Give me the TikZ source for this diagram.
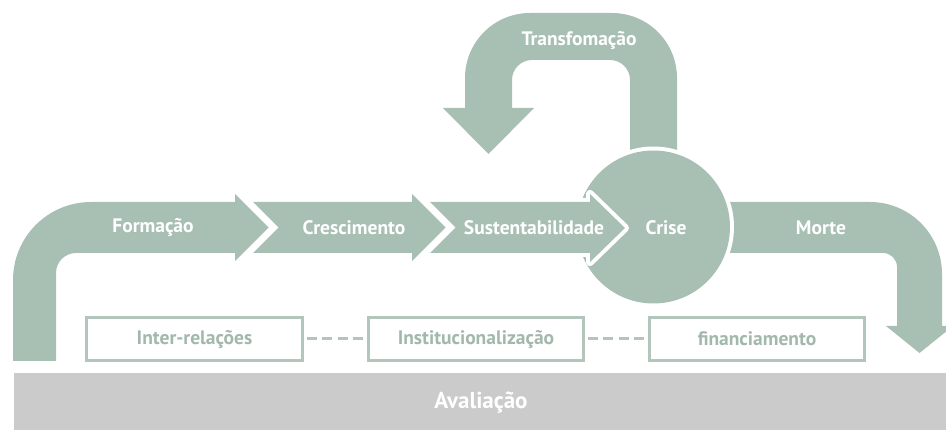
\documentclass[tikz,border=0pt]{standalone}
\usepackage{fontspec}
\setmainfont{PT Sans}
\definecolor{sage}{HTML}{A8BFB3}
\definecolor{sageline}{HTML}{B2C6BB}
\definecolor{sagetext}{HTML}{A3B8AC}
\definecolor{bargray}{HTML}{CBCBCB}
\tikzset{
  shapefill/.style={fill=sage, draw=none},
  cutter/.style={draw=white, line width=8pt, line join=round, fill=sage},
  lbl/.style={text=white, font=\fontsize{19.5}{22}\selectfont\bfseries, inner sep=0pt},
  phasebox/.style={draw=sageline, line width=2.6pt, fill=white, text=sagetext,
    font=\fontsize{19.5}{22}\selectfont\bfseries, minimum height=43pt, inner sep=0pt},
  dashline/.style={draw=sageline, line width=3pt, dash pattern=on 10pt off 5.5pt, dash phase=-3pt},
}
\begin{document}
\begin{tikzpicture}[x=1pt,y=-1pt]
\useasboundingbox (0,0) rectangle (946,430);
\clip (0,0) rectangle (946,430);
% Transformacao loop
\path[shapefill] (630,175) -- (630,80) arc[start angle=0, end angle=-90, radius=20]
  -- (532,60) arc[start angle=270, end angle=180, radius=20]
  -- (512,108) -- (534,108) -- (488.5,154) -- (443,108) -- (465,108)
  -- (465,78) arc[start angle=180, end angle=270, radius=65]
  -- (612,13) arc[start angle=270, end angle=360, radius=65]
  -- (677,175) -- cycle;
% Morte
\path[shapefill] (700,202) -- (870,202) arc[start angle=270, end angle=360, radius=72]
  -- (942,326) -- (953,326) -- (919.5,353) -- (886,326) -- (897,326)
  -- (897,267) arc[start angle=0, end angle=-90, radius=14]
  -- (700,253) -- cycle;
% Crise circle
\path[cutter] (653.5,227) circle[radius=76.5];
\path[shapefill] (653.5,227) circle[radius=76.5];
% Formacao (L shape)
\path[shapefill] (13,361) -- (13,280) arc[start angle=180, end angle=270, radius=78]
  -- (235,202) -- (235,194) -- (268.5,227.5) -- (235,261) -- (235,253)
  -- (76,253) arc[start angle=270, end angle=180, radius=20] -- (56,361) -- cycle;
% Crescimento
\path[shapefill] (253,202) -- (412,202) -- (412,194) -- (445.5,227.5) -- (412,261)
  -- (412,253) -- (253,253) -- (278.5,227.5) -- cycle;
% Sustentabilidade (cuts the circle)
\path[cutter] (560,202) -- (590,202) -- (590,194) -- (625,228) -- (590,262)
  -- (590,253) -- (560,253) -- cycle;
\path[shapefill] (430,202) -- (590,202) -- (590,194) -- (625,228) -- (590,262)
  -- (590,253) -- (430,253) -- (455.5,227.5) -- cycle;
% labels
\node[lbl] (formacao) at (153,228) {Formação};
\node[lbl] (crescimento) at (354,228) {Crescimento};
\node[lbl] (sustent) at (534,228) {Sustentabilidade};
\node[lbl] (crise) at (666,228) {Crise};
\node[lbl] (morte) at (821,228) {Morte};
\node[lbl] (transf) at (579,41) {Transfomação};
% boxes
\node[phasebox, minimum width=216pt] (inter) at (194.5,339) {Inter-relações};
\node[phasebox, minimum width=215pt] (inst) at (476,339) {Institucionalização};
\node[phasebox, minimum width=215pt] (fin) at (757,339) {financiamento};
\draw[dashline] (inter.east) -- (inst.west);
\draw[dashline] (inst.east) -- (fin.west);
% Avaliacao bar
\fill[bargray] (14,373) rectangle (946,430);
\node[text=white, font=\fontsize{23}{27}\selectfont\bfseries, inner sep=0pt] (aval) at (481,403) {Avaliação};
\end{tikzpicture}
\end{document}
